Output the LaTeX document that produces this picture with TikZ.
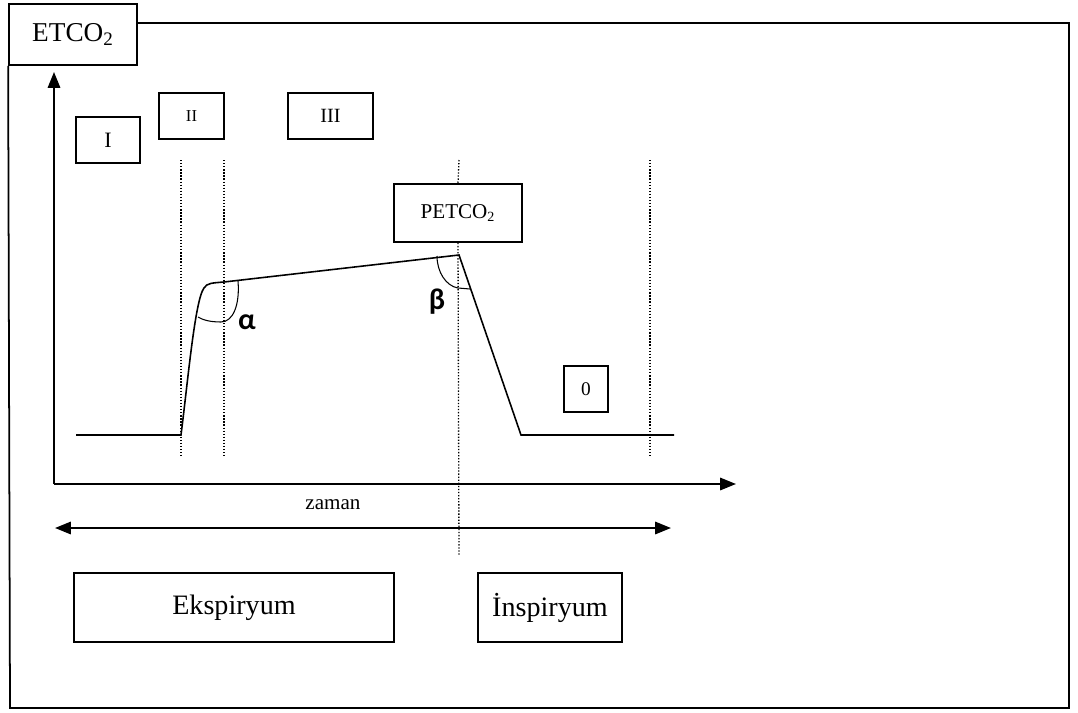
\documentclass[tikz,border=0pt]{standalone}
\usepackage{fontspec}
\setmainfont{Liberation Serif}
\newfontfamily\greekfont{Carlito}
\usetikzlibrary{arrows.meta}
\begin{document}
\begin{tikzpicture}[
        x=0.02cm, y=-0.02cm,
        box/.style={
            draw,
            line width=1pt,
            inner sep=0pt,
            align=center
        },
        guide/.style={densely dotted, line width=0.75pt},
        axis/.style={line width=1.2pt, -{Triangle[length=9pt,width=7pt]}}
    ]
        \useasboundingbox (0,0) rectangle (1078,713);

        % frame and title
        \node[box, minimum width=2.56cm, minimum height=1.22cm, font=\fontsize{15.5}{18}\selectfont] (etco) at (73,34.5) {ETCO\textsubscript{2}};
        \draw[line width=1pt] (etco.east |- 0,23) -- (1069,23) -- (1069,708) -- (10,708) -- (etco.south west);

        % phases
        \node[box, minimum width=1.28cm, minimum height=0.92cm, font=\fontsize{12.5}{14}\selectfont] (faz1) at (108,140) {I};
        \node[box, minimum width=1.30cm, minimum height=0.92cm, font=\fontsize{9.5}{11}\selectfont] (faz2) at (191.5,116) {II};
        \node[box, minimum width=1.70cm, minimum height=0.92cm, font=\fontsize{11.5}{13}\selectfont] (faz3) at (330.5,116) {III};
        \node[box, minimum width=2.56cm, minimum height=1.16cm, font=\fontsize{12}{14}\selectfont] (petco) at (458,213) {PETCO\textsubscript{2}};
        \node[box, minimum width=0.88cm, minimum height=0.92cm, font=\fontsize{11}{13}\selectfont] (faz0) at (586,389) {0};

        % axes
        \coordinate (o) at (54,484);
        \draw[axis] (o) -- (54,72);
        \draw[axis] (o) -- (736,484);

        % guides
        \draw[guide] (181,160) -- (181,456);
        \draw[guide] (224,160) -- (224,456);
        \draw[guide] (459,160) -- (petco.north);
        \draw[guide] (petco.south) -- (459,556);
        \draw[guide] (650,160) -- (650,456);

        % capnogram
        \coordinate (c1) at (181,435);
        \coordinate (c2) at (224,282);
        \coordinate (peak) at (459,255);
        \coordinate (c3) at (521,435);
        \draw[line width=0.9pt] (76,435) -- (c1)
            .. controls (188,380) and (195,300) .. (204,288)
            .. controls (207,283) and (212,283) .. (c2)
            -- (peak) -- (c3) -- (674,435);

        % angles
        \draw[line width=0.6pt] (238,281) .. controls (240,305) and (233,322) .. (221,322)
            .. controls (210,322) and (203,320) .. (198,317);
        \draw[line width=0.6pt] (437,256) .. controls (437,272) and (446,286) .. (458,288)
            -- (470,289);
        \node[font=\greekfont\bfseries\fontsize{17}{19}\selectfont] (alfa) at (247,322) {α};
        \node[font=\greekfont\bfseries\fontsize{17}{19}\selectfont] (beta) at (437,302) {β};

        % time
        \node[font=\fontsize{12}{14}\selectfont] (zaman) at (333,505) {zaman};
        \coordinate (t1) at (55,528);
        \coordinate (t2) at (671,528);
        \draw[line width=1.2pt, {Triangle[length=9pt,width=7pt]}-{Triangle[length=9pt,width=7pt]}] (t1) -- (t2);

        % breathing
        \node[box, minimum width=6.4cm, minimum height=1.38cm, font=\fontsize{16}{18}\selectfont] (eksp) at (234,607.5) {Ekspiryum};
        \node[box, minimum width=2.88cm, minimum height=1.38cm, font=\fontsize{16}{18}\selectfont] (insp) at (550,607.5) {İnspiryum};
    \end{tikzpicture}
\end{document}
